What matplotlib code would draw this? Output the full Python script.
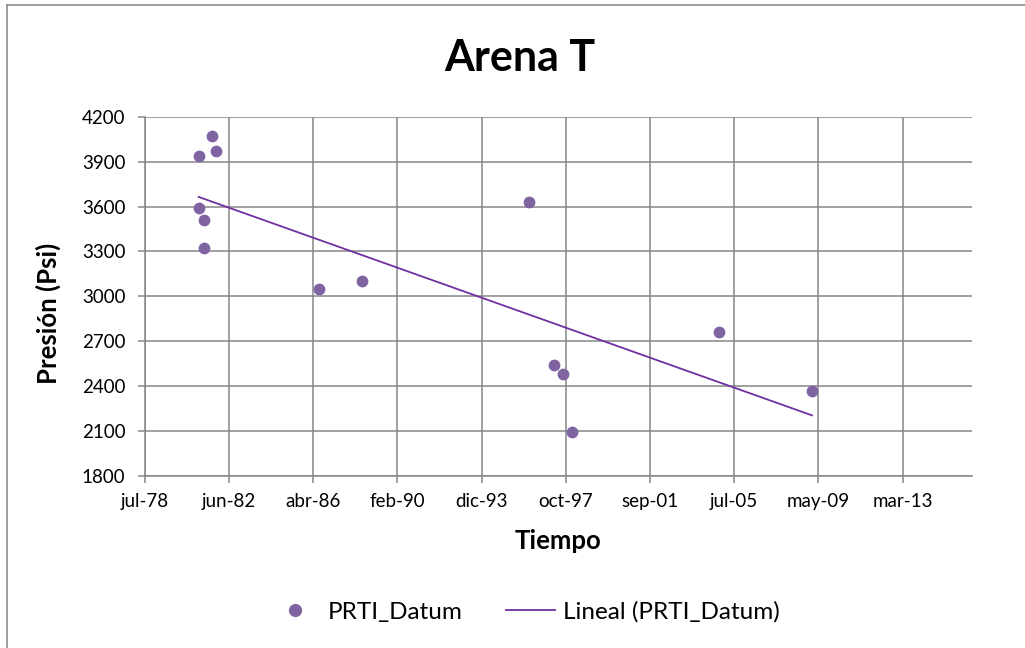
import numpy as np
import pandas as pd
import matplotlib
matplotlib.use("Agg")
import matplotlib.pyplot as plt
from matplotlib.lines import Line2D

# Pressure measurements (datum) for sand T
fechas = [
    "1981-01-15", "1981-01-25", "1981-04-09", "1981-04-19", "1981-08-20",
    "1981-10-31", "1986-07-22", "1988-06-29", "1996-02-26", "1997-04-13",
    "1997-09-10", "1998-02-08", "2004-11-02", "2009-01-27",
]
presion = [3587, 3940, 3325, 3513, 4073, 3971, 3047, 3102, 3627, 2543,
           2483, 2093, 2765, 2371]

tick_labels = ["jul-78", "jun-82", "abr-86", "feb-90", "dic-93",
               "oct-97", "sep-01", "jul-05", "may-09", "mar-13"]
y_ticks = [1800, 2100, 2400, 2700, 3000, 3300, 3600, 3900, 4200]

# spreadsheet-style day serials for the horizontal value axis
EPOCH = pd.Timestamp("1899-12-30")
x_serial = np.array((pd.to_datetime(fechas) - EPOCH).days, dtype=float)

X_MIN, X_STEP, X_MAX = 28700, 1406, 42506

plt.rcParams["font.family"] = ["Lato", "DejaVu Sans"]

GRID = "#868686"
MARK = "#8064A2"
TREND = "#7030A0"

W, H = 1025, 648
fig = plt.figure(figsize=(W / 100, H / 100), dpi=100)
ax = fig.add_axes([144.7 / W, 1 - 476 / H, (971.7 - 144.7) / W, (476 - 116.7) / H])

ax.scatter(x_serial, presion, s=72, color=MARK, zorder=3, linewidths=0)

coef = np.polyfit(x_serial, presion, 1)
xs = np.array([x_serial.min(), x_serial.max()])
ax.plot(xs, np.polyval(coef, xs), color=TREND, lw=1.3, zorder=2)

ax.set_xlim(X_MIN, X_MAX)
ax.set_ylim(1800, 4200)
ax.set_xticks([X_MIN + k * X_STEP for k in range(len(tick_labels))])
ax.set_xticklabels(tick_labels)
ax.set_yticks(y_ticks)
ax.set_yticklabels([str(v) for v in y_ticks])

ax.grid(True, color=GRID, lw=1.1)
ax.set_axisbelow(True)
for side in ("top", "right"):
    ax.spines[side].set_visible(False)
for side in ("left", "bottom"):
    ax.spines[side].set_color(GRID)
    ax.spines[side].set_linewidth(1.1)
ax.tick_params(axis="both", direction="out", length=5, width=1.1, color=GRID,
               labelsize=13.5, labelcolor="black")
ax.tick_params(axis="y", pad=9)
ax.tick_params(axis="x", pad=7)

ax.set_xlabel("Tiempo", fontsize=18.5, fontweight="bold", va="center")
ax.xaxis.set_label_coords((558 - 144.7) / 827, (476 - 541) / 359.3)
ax.set_ylabel("Presión (Psi)", fontsize=18.5, fontweight="bold", va="center")
ax.yaxis.set_label_coords((48 - 144.7) / 827, (476 - 313) / 359.3)

fig.text(520 / W, 1 - 58 / H, "Arena T", ha="center", va="center",
         fontsize=31, fontweight="bold")

handles = [
    Line2D([], [], ls="none", marker="o", markersize=8.5, color=MARK),
    Line2D([], [], color=TREND, lw=1.3),
]
fig.legend(handles, ["PRTI_Datum", "Lineal (PRTI_Datum)"], loc="center",
           bbox_to_anchor=(525 / W, 1 - 612 / H), ncol=2, frameon=False,
           fontsize=17.5, handlelength=2.0, columnspacing=1.8, handletextpad=0.33)

# outer chart frame
fig.add_artist(Line2D([7 / W, 7 / W], [0, 1 - 5 / H],
                      transform=fig.transFigure, color="#8c8c8c", lw=1.2))
fig.add_artist(Line2D([7 / W, 1], [1 - 5 / H, 1 - 5 / H],
                      transform=fig.transFigure, color="#8c8c8c", lw=1.2))

fig.savefig("out.png", dpi=100)
